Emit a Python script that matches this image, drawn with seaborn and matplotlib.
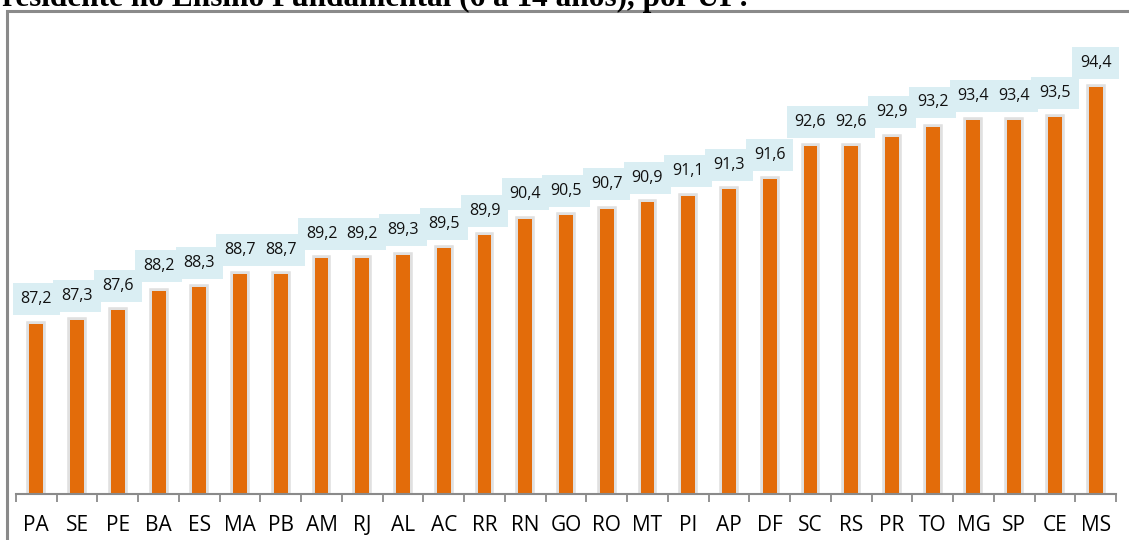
import matplotlib
matplotlib.use("Agg")
import matplotlib.pyplot as plt
import matplotlib.patheffects as pe
from matplotlib.patches import Rectangle
import seaborn as sns
import pandas as pd

ufs = ["PA", "SE", "PE", "BA", "ES", "MA", "PB", "AM", "RJ", "AL", "AC", "RR", "RN", "GO",
       "RO", "MT", "PI", "AP", "DF", "SC", "RS", "PR", "TO", "MG", "SP", "CE", "MS"]
valores = [87.2, 87.3, 87.6, 88.2, 88.3, 88.7, 88.7, 89.2, 89.2, 89.3, 89.5, 89.9, 90.4, 90.5,
           90.7, 90.9, 91.1, 91.3, 91.6, 92.6, 92.6, 92.9, 93.2, 93.4, 93.4, 93.5, 94.4]
titulo = "residente no Ensino Fundamental (6 a 14 anos), por UF:"

df = pd.DataFrame({"uf": ufs, "valor": valores})

sns.set_theme(style="white")
plt.rcParams["font.family"] = ["Open Sans", "DejaVu Sans"]

W, H = 1129, 540
fig = plt.figure(figsize=(W / 100, H / 100), dpi=100)

# outer frame (top + left edges)
fig.patches.append(Rectangle((7 / W, -0.1), 1.2, (H - 11) / H + 0.1, transform=fig.transFigure,
                             fill=False, edgecolor="#8a8a8a", linewidth=2.2, zorder=0))

fig.text(2 / W, 1 - 6 / H, titulo, family="Liberation Serif", fontweight="bold",
         fontsize=22.5, ha="left", va="baseline", color="black")

ax = fig.add_axes([16 / W, 46 / H, 1100 / W, (494 - 35) / H])
ax.patch.set_alpha(0)

sns.barplot(data=df, x="uf", y="valor", color="#E36C0A", saturation=1, width=0.34, ax=ax,
            order=ufs)
for bar in ax.patches:
    bar.set_path_effects([pe.withStroke(linewidth=4, foreground="#e0e0e0"), pe.Normal()])
    bar.set_edgecolor("none")

ax.set_ylim(82, 96)
ax.set_xlim(-0.5, len(ufs) - 0.5)

for i, v in enumerate(valores):
    ax.annotate(f"{v:.1f}".replace(".", ","), xy=(i, v), xytext=(0, 17.5),
                textcoords="offset points", ha="center", va="center", fontsize=11.5,
                color="#111111",
                bbox=dict(boxstyle="square,pad=0.5", facecolor="#DAEEF3", edgecolor="none"))

for s in ["top", "right", "left"]:
    ax.spines[s].set_visible(False)
ax.spines["bottom"].set_color("#8a8a8a")
ax.spines["bottom"].set_linewidth(1.5)
ax.set_yticks([])
ax.set_xlabel("")
ax.set_ylabel("")
ax.set_xticks(range(len(ufs)))
ax.set_xticklabels(ufs, fontsize=15, color="black")
ax.tick_params(axis="x", which="major", length=0, pad=15)
ax.set_xticks([i - 0.5 for i in range(len(ufs) + 1)], minor=True)
ax.tick_params(axis="x", which="minor", length=6, width=1.3, color="#8a8a8a", direction="out",
               bottom=True)

fig.savefig("out.png", dpi=100)
